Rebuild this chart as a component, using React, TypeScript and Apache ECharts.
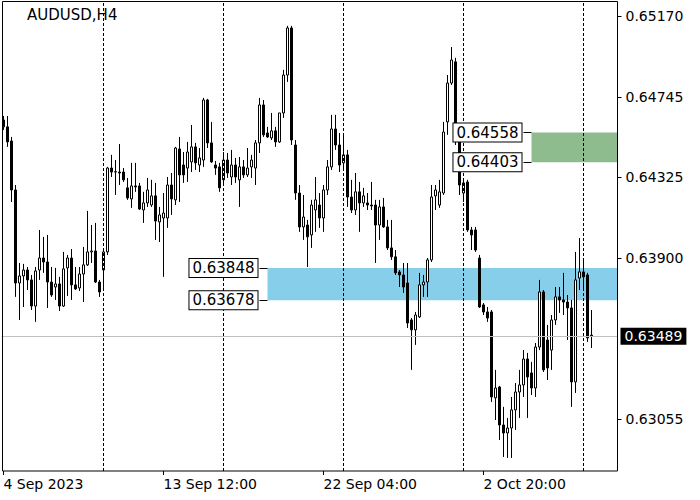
import React, { useEffect, useRef } from "react";
import * as echarts from "echarts";

const opens = [
  0.64624, 0.64588, 0.64514, 0.64257, 0.63769, 0.63806, 0.63837, 0.63785, 0.63648, 0.63837,
  0.639, 0.63879, 0.63774, 0.63748, 0.63764, 0.63648, 0.63848, 0.639, 0.63759, 0.63743,
  0.63816, 0.63864, 0.63932, 0.63937, 0.63774, 0.63837, 0.63932, 0.64372, 0.64351, 0.64351,
  0.64351, 0.64268, 0.6421, 0.64278, 0.64278, 0.64152, 0.64189, 0.64178, 0.64226, 0.64089,
  0.6411, 0.6411, 0.64283, 0.64205, 0.64472, 0.64388, 0.64372, 0.64404, 0.64483, 0.64388,
  0.64414, 0.64729, 0.64504, 0.64388, 0.64378, 0.6431, 0.64414, 0.64325, 0.64388, 0.6431,
  0.64378, 0.64336, 0.64378, 0.64372, 0.64504, 0.64703, 0.64556, 0.6453, 0.64567, 0.64509,
  0.64661, 0.6486, 0.65107, 0.64493, 0.64241, 0.64063, 0.64073, 0.64021, 0.64152, 0.64178,
  0.6411, 0.64257, 0.64378, 0.64577, 0.64493, 0.64399, 0.64441, 0.6422, 0.64152, 0.64247,
  0.64189, 0.64189, 0.64178, 0.64178, 0.64073, 0.64168, 0.64063, 0.63953, 0.63906, 0.63827,
  0.63811, 0.63769, 0.63575, 0.63523, 0.63591, 0.63759, 0.63774, 0.6389, 0.64226, 0.64178,
  0.64241, 0.64614, 0.64818, 0.64929, 0.64519, 0.64241, 0.64299, 0.64047, 0.64047, 0.639,
  0.63654, 0.63617, 0.63617, 0.63166, 0.63223, 0.63024, 0.62982, 0.63008, 0.63103, 0.63197,
  0.63234, 0.6337, 0.63297, 0.63218, 0.63433, 0.63722, 0.6347, 0.63417, 0.63575, 0.63696,
  0.6368, 0.63669, 0.63638, 0.6325, 0.63795, 0.63827, 0.63811, 0.63495,
];
const closes = [
  0.64588, 0.64509, 0.64257, 0.63769, 0.63806, 0.63837, 0.63785, 0.63648, 0.63832, 0.639,
  0.63879, 0.63774, 0.63706, 0.63764, 0.63648, 0.63843, 0.639, 0.63759, 0.63738, 0.63816,
  0.63864, 0.63932, 0.63937, 0.63774, 0.63722, 0.63932, 0.64372, 0.64351, 0.64353, 0.64346,
  0.6431, 0.64215, 0.64278, 0.64273, 0.64157, 0.64189, 0.64257, 0.64226, 0.64094, 0.64126,
  0.64136, 0.64283, 0.6421, 0.64477, 0.64336, 0.64336, 0.64456, 0.64483, 0.64399, 0.64425,
  0.64729, 0.64504, 0.64404, 0.64372, 0.64268, 0.64414, 0.64346, 0.64388, 0.64325, 0.64378,
  0.64336, 0.64372, 0.64414, 0.64504, 0.64703, 0.64546, 0.64535, 0.64567, 0.64509, 0.64661,
  0.6486, 0.65107, 0.64519, 0.64241, 0.64063, 0.64115, 0.64011, 0.64178, 0.64205, 0.6411,
  0.64257, 0.64378, 0.64577, 0.64493, 0.64388, 0.64441, 0.6422, 0.64152, 0.64247, 0.64189,
  0.64226, 0.64178, 0.64173, 0.64073, 0.64168, 0.64063, 0.63953, 0.63906, 0.63822, 0.63811,
  0.63748, 0.63559, 0.63523, 0.63601, 0.63759, 0.63774, 0.6389, 0.6422, 0.64257, 0.64247,
  0.64561, 0.64818, 0.64939, 0.64519, 0.64283, 0.64294, 0.64047, 0.64021, 0.63942, 0.63643,
  0.63617, 0.63585, 0.63171, 0.63218, 0.63024, 0.62982, 0.63008, 0.63103, 0.63197, 0.63234,
  0.6337, 0.63276, 0.63218, 0.63433, 0.63722, 0.63313, 0.63323, 0.63575, 0.63696, 0.6368,
  0.63669, 0.63638, 0.6325, 0.63785, 0.63827, 0.63801, 0.63481, 0.63489,
];
const lows = [
  0.64572, 0.64483, 0.64194, 0.63696, 0.63575, 0.63643, 0.63732, 0.63627, 0.63565, 0.63785,
  0.63822, 0.63638, 0.63696, 0.6368, 0.63622, 0.63643, 0.63701, 0.6368, 0.63732, 0.63727,
  0.63669, 0.63858, 0.63874, 0.63769, 0.63696, 0.63743, 0.63916, 0.64325, 0.64231, 0.64283,
  0.64299, 0.64205, 0.64163, 0.64247, 0.64152, 0.64084, 0.64168, 0.64168, 0.63995, 0.63984,
  0.63801, 0.64058, 0.64126, 0.64178, 0.64194, 0.64294, 0.64299, 0.64351, 0.64362, 0.64351,
  0.64378, 0.64477, 0.64399, 0.64336, 0.64247, 0.64283, 0.6432, 0.64283, 0.64294, 0.64168,
  0.6432, 0.64325, 0.6432, 0.64283, 0.64451, 0.64535, 0.6453, 0.64519, 0.64483, 0.64504,
  0.64635, 0.64824, 0.64493, 0.64205, 0.64037, 0.63995, 0.63853, 0.63953, 0.64037, 0.64058,
  0.64037, 0.64231, 0.64362, 0.64467, 0.64351, 0.64362, 0.64168, 0.64136, 0.64126, 0.64037,
  0.64168, 0.64152, 0.64152, 0.63874, 0.63995, 0.64058, 0.63942, 0.6389, 0.63811, 0.63748,
  0.63717, 0.63533, 0.63313, 0.63444, 0.63585, 0.63696, 0.63696, 0.63879, 0.64152, 0.64163,
  0.64231, 0.64546, 0.64808, 0.64493, 0.64231, 0.64194, 0.64037, 0.63942, 0.63932, 0.63638,
  0.63601, 0.63565, 0.63145, 0.6305, 0.62945, 0.62856, 0.62851, 0.62851, 0.62998, 0.63061,
  0.63171, 0.63061, 0.63181, 0.63171, 0.63417, 0.63302, 0.6326, 0.63313, 0.63549, 0.63612,
  0.63601, 0.6347, 0.63119, 0.63192, 0.63732, 0.63732, 0.6346, 0.63428,
];
const highs = [
  0.64645, 0.64645, 0.64535, 0.64283, 0.63874, 0.63869, 0.63853, 0.63811, 0.63853, 0.64047,
  0.64011, 0.64021, 0.63853, 0.63848, 0.63801, 0.63932, 0.63916, 0.63947, 0.63853, 0.63853,
  0.63958, 0.64147, 0.64073, 0.64084, 0.63785, 0.63942, 0.64378, 0.64441, 0.64414, 0.64498,
  0.64372, 0.6432, 0.64399, 0.64399, 0.64294, 0.64247, 0.6432, 0.6431, 0.64294, 0.64168,
  0.64241, 0.64325, 0.64346, 0.64483, 0.64535, 0.64456, 0.64509, 0.64598, 0.64504, 0.64477,
  0.6474, 0.64735, 0.64614, 0.64409, 0.64399, 0.64456, 0.64451, 0.64467, 0.64425, 0.6443,
  0.64414, 0.64477, 0.64441, 0.64519, 0.6474, 0.64729, 0.64588, 0.64661, 0.64588, 0.64661,
  0.64887, 0.65118, 0.65118, 0.64519, 0.64283, 0.64231, 0.641, 0.64205, 0.64325, 0.64241,
  0.64283, 0.64414, 0.64651, 0.64651, 0.64556, 0.64556, 0.64467, 0.6431, 0.64346, 0.64299,
  0.64268, 0.64241, 0.64299, 0.64205, 0.64205, 0.64215, 0.641, 0.641, 0.63942, 0.63837,
  0.63874, 0.63874, 0.63585, 0.63617, 0.63822, 0.63811, 0.639, 0.64283, 0.64283, 0.6431,
  0.64614, 0.6486, 0.65007, 0.6495, 0.64546, 0.6431, 0.6431, 0.64063, 0.64063, 0.63916,
  0.63664, 0.63643, 0.63627, 0.63313, 0.63229, 0.63119, 0.63061, 0.63171, 0.63244, 0.63313,
  0.63417, 0.63402, 0.63355, 0.63454, 0.63785, 0.63732, 0.63549, 0.63601, 0.63748, 0.63748,
  0.63822, 0.63706, 0.6368, 0.63932, 0.64005, 0.6389, 0.63822, 0.63627,
];

const slotCount = 154;
const categories = Array.from({ length: slotCount }, (_, i) => String(i));
const xTickIndex = [0, 40, 80, 120];
const xTickText = ["4 Sep 2023", "13 Sep 12:00", "22 Sep 04:00", "2 Oct 20:00"];
const yTickValues = [0.63055, 0.639, 0.64325, 0.64745, 0.6517];
const separatorIndex = [25, 55, 85, 115, 145];
const lastPrice = 0.63489;
const zoneTop = [0.63848, 0.64558];
const zoneBottom = [0.63678, 0.64403];
const zoneStart = [66, 132];
const yMin = 0.627825;
const yMax = 0.652431;

const FONT = "DejaVu Sans";

export default function App() {
  const ref = useRef<HTMLDivElement>(null);
  useEffect(() => {
    if (!ref.current) return;
    const chart = echarts.init(ref.current, null, { renderer: "svg" });
    const data = opens.map((o, i) => [o, closes[i], lows[i], highs[i]]);
    const zoneColors = ["#87ceeb", "#8fbc8f"];
    const boxLabel = (txt: string) => ({
      show: true,
      position: "start",
      distance: 2,
      formatter: txt,
      color: "#000",
      fontSize: 15,
      fontFamily: FONT,
      backgroundColor: "#fff",
      borderColor: "#000",
      borderWidth: 1,
      padding: [2, 3, 1, 3],
    });
    const connectorLines: any[] = [];
    zoneTop.forEach((t, k) => {
      const s = zoneStart[k];
      [t, zoneBottom[k]].forEach((v) => {
        connectorLines.push([
          {
            xAxis: String(s - 2),
            yAxis: v,
            lineStyle: { color: "#000", type: "solid", width: 1 },
            label: boxLabel(v.toFixed(5)),
          },
          { xAxis: String(s), yAxis: v },
        ]);
      });
    });
    const option: any = {
      animation: false,
      backgroundColor: "#fff",
      grid: { left: 1.5, top: 2, width: 616, height: 469 },
      xAxis: {
        type: "category",
        data: categories,
        boundaryGap: true,
        axisLine: { show: false },
        axisTick: {
          show: true,
          alignWithLabel: true,
          length: 4,
          interval: (idx: number) => xTickIndex.includes(idx),
          lineStyle: { color: "#000" },
        },
        axisLabel: {
          show: true,
          interval: (idx: number) => xTickIndex.includes(idx),
          formatter: (_v: string, idx: number) => {
            const k = xTickIndex.indexOf(idx);
            return k >= 0 ? xTickText[k] : "";
          },
          align: "left",
          margin: 6,
          color: "#000",
          fontSize: 14,
          fontFamily: FONT,
        },
        splitLine: { show: false },
      },
      yAxis: {
        type: "value",
        position: "right",
        min: yMin,
        max: yMax,
        scale: true,
        axisLine: { show: false },
        axisTick: {
          show: true,
          length: 4,
          customValues: yTickValues,
          lineStyle: { color: "#000" },
        },
        axisLabel: {
          show: true,
          customValues: yTickValues,
          formatter: (v: number) => v.toFixed(5),
          margin: 8,
          color: "#000",
          fontSize: 14,
          fontFamily: FONT,
        },
        splitLine: { show: false },
      },
      graphic: [
        {
          type: "rect",
          shape: { x: 2.5, y: 1.5, width: 615, height: 469.5 },
          style: { fill: "none", stroke: "#000", lineWidth: 1 },
          z: 100,
          silent: true,
        },
        {
          type: "text",
          left: 27,
          top: 7,
          style: { text: "AUDUSD,H4", fontSize: 15, fontFamily: FONT, fill: "#000" },
          silent: true,
        },
      ],
      series: [
        {
          type: "line",
          data: [],
          silent: true,
          markLine: {
            silent: true,
            precision: 5,
            symbol: ["none", "none"],
            animation: false,
            data: [
              ...separatorIndex.map((i) => ({
                xAxis: String(i),
                lineStyle: { color: "#000", type: [3, 2], width: 1 },
                label: { show: false },
              })),
              {
                yAxis: lastPrice,
                lineStyle: { color: "#c0c0c0", type: "solid", width: 1 },
                label: {
                  show: true,
                  position: "end",
                  distance: 3,
                  formatter: lastPrice.toFixed(5),
                  color: "#fff",
                  backgroundColor: "#000",
                  fontSize: 14,
                  fontFamily: FONT,
                  padding: [2, 4, 1, 4],
                },
              },
            ],
          },
        },
        {
          type: "candlestick",
          data,
          barWidth: 3,
          itemStyle: {
            color: "#fff",
            color0: "#000",
            borderColor: "#000",
            borderColor0: "#000",
            borderWidth: 1,
          },
          emphasis: { disabled: true },
          markArea: {
            silent: true,
            data: zoneTop.map((t, k) => [
              { xAxis: String(zoneStart[k]), yAxis: t, itemStyle: { color: zoneColors[k], opacity: 1 } },
              { xAxis: Infinity, yAxis: zoneBottom[k] },
            ]),
          },
          markLine: {
            silent: true,
            precision: 5,
            symbol: ["none", "none"],
            animation: false,
            data: connectorLines,
          },
        },
      ],
    };
    chart.setOption(option);
    return () => chart.dispose();
  }, []);
  return (
    <div
      ref={ref}
      style={{ position: "fixed", left: 0, top: 0, width: 700, height: 500, background: "#fff" }}
    />
  );
}
